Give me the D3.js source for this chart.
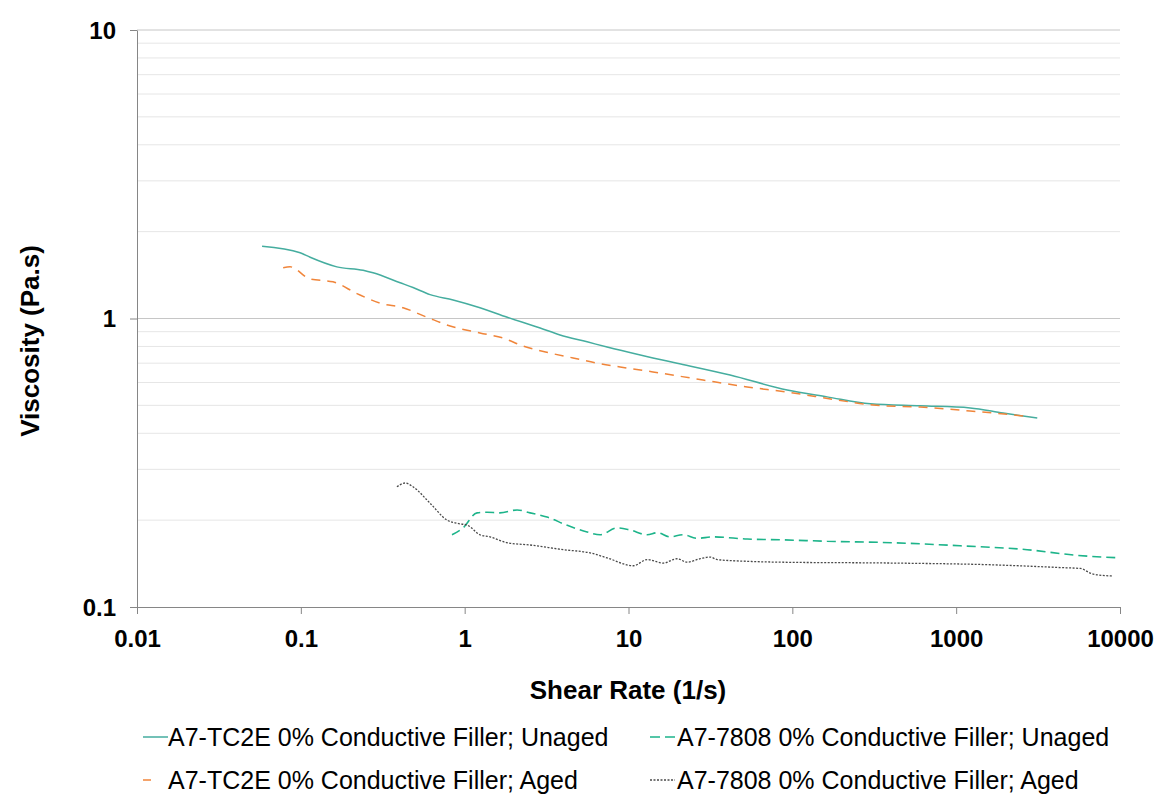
<!DOCTYPE html>
<html>
<head>
<meta charset="utf-8">
<script src="https://cdn.jsdelivr.net/npm/d3@7"></script>
<style>
  body { margin: 0; background: #fff; }
  svg { font-family: "Liberation Sans", Arial, sans-serif; }
</style>
</head>
<body>
<svg id="chart" width="1157" height="796"></svg>
<script>
// Series: [shear rate (1/s), viscosity (Pa.s)]
const tc2eUnaged = [
  [0.058, 1.78], [0.099, 1.69], [0.114, 1.63], [0.166, 1.51], [0.24, 1.47], [0.276, 1.44],
  [0.404, 1.33], [0.484, 1.28], [0.615, 1.21], [0.85, 1.16], [1.24, 1.09], [1.82, 1.01],
  [2.89, 0.927], [3.82, 0.877], [5.59, 0.83], [7.4, 0.796], [11.8, 0.747], [14.1, 0.73],
  [19.8, 0.70], [41.7, 0.637], [93, 0.565], [163, 0.535], [299, 0.506], [603, 0.498],
  [1217, 0.49], [1936, 0.47], [3126, 0.452]
];
const tc2eAged = [
  [0.078, 1.50], [0.086, 1.51], [0.114, 1.37], [0.157, 1.34], [0.22, 1.22], [0.305, 1.13],
  [0.421, 1.09], [0.589, 1.01], [0.815, 0.942], [1.24, 0.891], [1.72, 0.855], [2.27, 0.803],
  [3.32, 0.759], [4.59, 0.73], [6.43, 0.70], [8.89, 0.679], [14.1, 0.653], [28.5, 0.612],
  [53, 0.579], [93, 0.556], [188, 0.522], [311, 0.501], [603, 0.493], [1217, 0.478],
  [2228, 0.463], [2830, 0.456]
];
const a7808Unaged = [
  [0.837, 0.178], [0.977, 0.188], [1.19, 0.212], [1.37, 0.213], [1.64, 0.212], [2.09, 0.217],
  [2.51, 0.212], [3.18, 0.205], [4.22, 0.192], [5.59, 0.182], [6.71, 0.178], [8.51, 0.188],
  [10.2, 0.185], [13.0, 0.178], [15.0, 0.181], [17.9, 0.175], [21.5, 0.178], [26.2, 0.173],
  [32.8, 0.175], [53, 0.172], [84, 0.171], [163, 0.169], [412, 0.167], [1057, 0.163],
  [2712, 0.158], [5479, 0.151], [10000, 0.148]
];
const a7808Aged = [
  [0.386, 0.261], [0.433, 0.269], [0.484, 0.261], [0.615, 0.229], [0.782, 0.200], [0.90, 0.195],
  [1.04, 0.192], [1.24, 0.178], [1.43, 0.175], [1.82, 0.167], [2.51, 0.164], [3.99, 0.158],
  [5.83, 0.154], [7.4, 0.148], [10.7, 0.139], [13.0, 0.146], [16.3, 0.142], [19.8, 0.147],
  [22.8, 0.143], [27.4, 0.147], [31.5, 0.149], [34.8, 0.146], [53, 0.144], [84, 0.143],
  [412, 0.142], [1683, 0.140], [4315, 0.137], [5715, 0.136], [6855, 0.130], [9080, 0.128]
];

const xTicks = [0.01, 0.1, 1, 10, 100, 1000, 10000];
const xTickLabels = ["0.01", "0.1", "1", "10", "100", "1000", "10000"];
const yTicks = [0.1, 1, 10];
const yTickLabels = ["0.1", "1", "10"];
const seriesNames = [
  "A7-TC2E 0% Conductive Filler; Unaged",
  "A7-TC2E 0% Conductive Filler; Aged",
  "A7-7808 0% Conductive Filler; Unaged",
  "A7-7808 0% Conductive Filler; Aged"
];

const svg = d3.select("#chart");
const plotLeft = 137, plotRight = 1120, plotTop = 30, plotBottom = 607;

const x = d3.scaleLog().domain([0.01, 10000]).range([plotLeft, plotRight]);
const y = d3.scaleLog().domain([0.1, 10]).range([plotBottom, plotTop]);

// gridlines: minor 2..9 per decade, major at decades
const minor = [];
[0.1, 1].forEach(d => { for (let k = 2; k <= 9; k++) minor.push(d * k); });
svg.append("g").selectAll("line").data(minor).enter().append("line")
  .attr("x1", plotLeft).attr("x2", plotRight)
  .attr("y1", d => y(d)).attr("y2", d => y(d))
  .attr("stroke", "#e6e6e6").attr("stroke-width", 1);
svg.append("g").selectAll("line").data([1, 10]).enter().append("line")
  .attr("x1", plotLeft).attr("x2", plotRight)
  .attr("y1", d => y(d)).attr("y2", d => y(d))
  .attr("stroke", "#c6c6c6").attr("stroke-width", 1);

// axes
const xAxis = svg.append("g")
  .attr("transform", `translate(0,${plotBottom})`)
  .call(d3.axisBottom(x).tickValues(xTicks).tickFormat((d, i) => xTickLabels[i]).tickSize(7).tickSizeOuter(0));
const yAxis = svg.append("g")
  .attr("transform", `translate(${plotLeft},0)`)
  .call(d3.axisLeft(y).tickValues(yTicks).tickFormat((d, i) => yTickLabels[i]).tickSize(7).tickSizeOuter(0));
[xAxis, yAxis].forEach(a => {
  a.attr("font-family", null);
  a.select(".domain").attr("stroke", "#868686");
  a.selectAll(".tick line").attr("stroke", "#868686");
  a.selectAll(".tick text")
    .attr("fill", "#000").style("font-size", "24px").style("font-weight", "bold");
});
xAxis.selectAll(".tick text").attr("dy", null).attr("y", 40);
yAxis.selectAll(".tick text").attr("x", -21).attr("dy", "0.35em");

// axis titles
svg.append("text").attr("x", 628).attr("y", 699)
  .attr("text-anchor", "middle").style("font-size", "26px").style("font-weight", "bold")
  .text("Shear Rate (1/s)");
svg.append("text")
  .attr("transform", "translate(39,341) rotate(-90)")
  .attr("text-anchor", "middle").style("font-size", "26px").style("font-weight", "bold")
  .text("Viscosity (Pa.s)");

// lines
const line = d3.line().x(d => x(d[0])).y(d => y(d[1])).curve(d3.curveMonotoneX);
const styles = [
  { data: tc2eUnaged, color: "#45ad9f", dash: null, w: 1.5 },
  { data: tc2eAged, color: "#f0853a", dash: "9,7", w: 1.5 },
  { data: a7808Unaged, color: "#1db48a", dash: "9,5", w: 1.6 },
  { data: a7808Aged, color: "#4a4a4a", dash: "2,1.5", w: 1.3 }
];
styles.forEach(s => {
  svg.append("path").datum(s.data)
    .attr("d", line)
    .attr("fill", "none")
    .attr("stroke", s.color)
    .attr("stroke-width", s.w)
    .attr("stroke-dasharray", s.dash);
});

// legend
const legendPos = [
  { sx: 143, tx: 168, y: 737 },
  { sx: 143, tx: 168, y: 780 },
  { sx: 650, tx: 677, y: 737 },
  { sx: 650, tx: 677, y: 780 }
];
const legendSym = [
  { len: 25, dash: null },
  { len: 8, dash: null },
  { len: 25, dash: "10,5" },
  { len: 25, dash: "2,1.5" }
];
const legend = svg.append("g").selectAll("g").data(seriesNames).enter().append("g");
legend.append("line")
  .attr("x1", (d, i) => legendPos[i].sx)
  .attr("x2", (d, i) => legendPos[i].sx + legendSym[i].len)
  .attr("y1", (d, i) => legendPos[i].y).attr("y2", (d, i) => legendPos[i].y)
  .attr("stroke", (d, i) => styles[i].color)
  .attr("stroke-width", (d, i) => styles[i].w)
  .attr("stroke-dasharray", (d, i) => legendSym[i].dash);
legend.append("text")
  .attr("x", (d, i) => legendPos[i].tx)
  .attr("y", (d, i) => legendPos[i].y + 9)
  .style("font-size", "25px").attr("fill", "#000")
  .text(d => d);
</script>
</body>
</html>
